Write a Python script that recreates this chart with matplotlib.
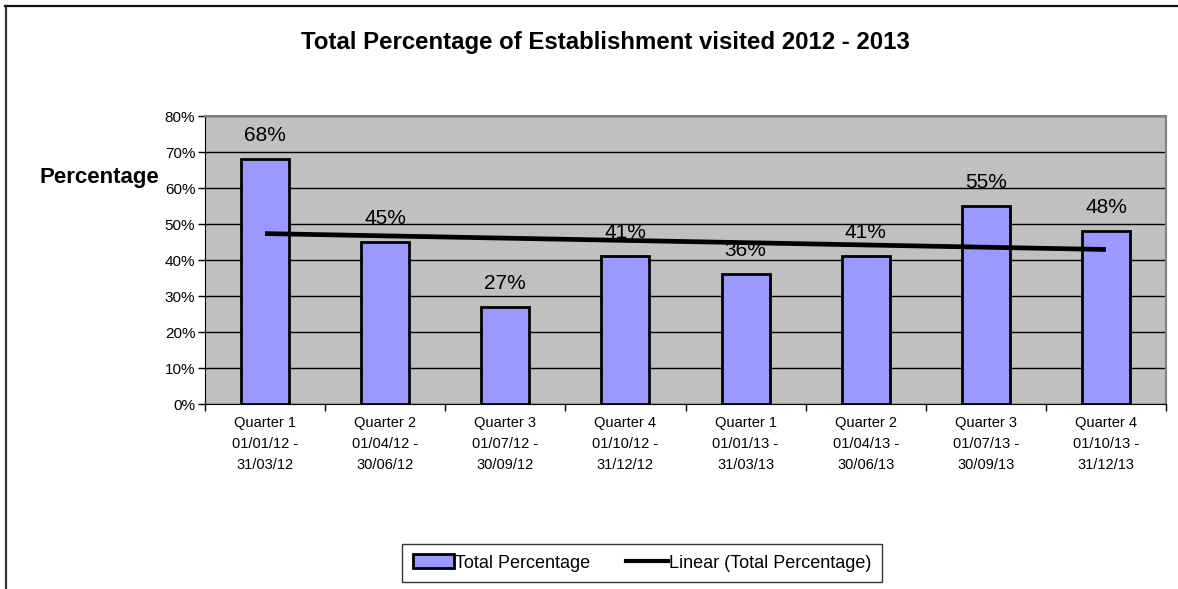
import matplotlib.pyplot as plt
import numpy as np
from matplotlib.patches import Patch
from matplotlib.lines import Line2D

plt.rcParams['font.family'] = ['Liberation Sans', 'DejaVu Sans']

quarters = ['Quarter 1\n01/01/12 -\n31/03/12', 'Quarter 2\n01/04/12 -\n30/06/12',
            'Quarter 3\n01/07/12 -\n30/09/12', 'Quarter 4\n01/10/12 -\n31/12/12',
            'Quarter 1\n01/01/13 -\n31/03/13', 'Quarter 2\n01/04/13 -\n30/06/13',
            'Quarter 3\n01/07/13 -\n30/09/13', 'Quarter 4\n01/10/13 -\n31/12/13']
total_pct = [68, 45, 27, 41, 36, 41, 55, 48]
yticks = [0, 10, 20, 30, 40, 50, 60, 70, 80]

W, H = 1178, 589
fig = plt.figure(figsize=(W/100., H/100.), dpi=100)

# outer chart border (left and top only visible)
fig.add_artist(Line2D([5.5/W, 5.5/W], [0, 1-6./H], color='#333333', lw=1.6))
fig.add_artist(Line2D([5./W, 1.], [1-6./H, 1-6./H], color='#111111', lw=1.6))

ax = fig.add_axes([205./W, (H-404.)/H, 961./W, 288./H])
ax.set_facecolor('#C0C0C0')

x = np.arange(len(total_pct))
ax.bar(x, total_pct, width=0.4, color='#9999FF', edgecolor='black', lw=2, zorder=3)

for xi, v in zip(x, total_pct):
    ax.annotate('%d%%' % v, (xi, v), xytext=(0, 17), textcoords='offset points',
                ha='center', va='center', fontsize=15, zorder=4)

# linear trend
k, b = np.polyfit(x, total_pct, 1)
ax.plot([x[0], x[-1]], [k*x[0]+b, k*x[-1]+b], color='black', lw=3.4, zorder=5,
        solid_capstyle='butt')

ax.set_xlim(-0.5, len(total_pct)-0.5)
ax.set_ylim(0, 80)
ax.set_yticks(yticks)
ax.set_yticklabels(['%d%%' % t for t in yticks], fontsize=11)
ax.yaxis.grid(True, color='black', lw=1)
ax.set_axisbelow(True)

ax.set_xticks(np.arange(-0.5, len(total_pct)), labels=[])
ax.set_xticks(x, minor=True)
ax.set_xticklabels(quarters, minor=True, fontsize=10.5, linespacing=1.6)
ax.tick_params(axis='x', which='major', length=5, width=1, color='black')
ax.tick_params(axis='x', which='minor', length=0, pad=9)
ax.tick_params(axis='y', length=5, width=1, color='black', pad=2)

for s in ['top', 'right']:
    ax.spines[s].set_color('#808080')
    ax.spines[s].set_linewidth(1.5)
ax.spines['left'].set_color('black')
ax.spines['bottom'].set_color('black')

fig.text(605./W, 1-43./H, 'Total Percentage of Establishment visited 2012 - 2013',
         ha='center', va='center', fontsize=17.3, fontweight='bold')
fig.text(99./W, 1-178./H, 'Percentage', ha='center', va='center',
         fontsize=16, fontweight='bold')

handles = [Patch(facecolor='#9999FF', edgecolor='black', lw=2),
           Line2D([0], [0], color='black', lw=3)]
leg = fig.legend(handles, ['Total Percentage', 'Linear (Total Percentage)'],
                 loc='center', bbox_to_anchor=(642./W, 1-563./H), ncol=2,
                 fontsize=13, frameon=True, fancybox=False, edgecolor='black',
                 handlelength=2.3, handleheight=0.8, handletextpad=0.05,
                 columnspacing=2.0, borderpad=0.6)
leg.get_frame().set_linewidth(1)

fig.savefig('out.png', dpi=100)
